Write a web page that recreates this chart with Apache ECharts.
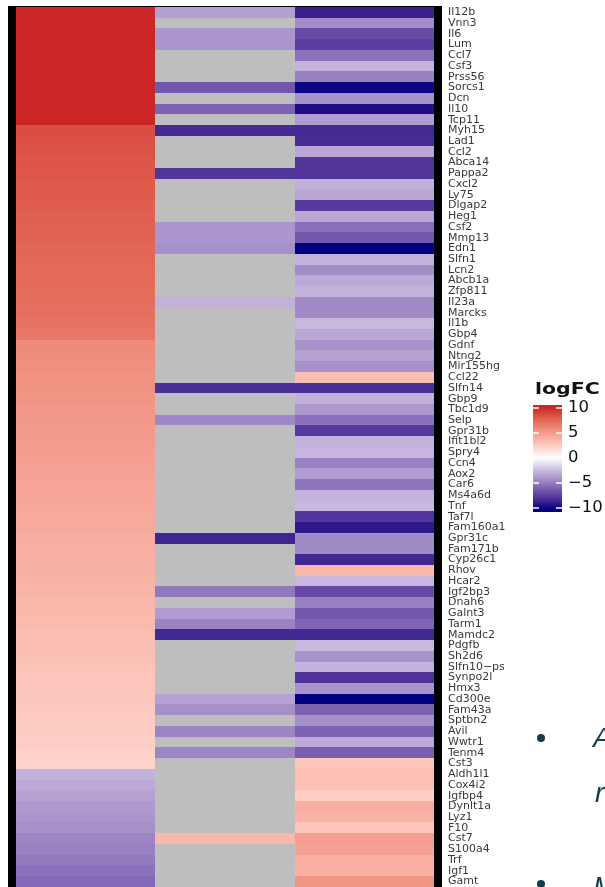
<!DOCTYPE html>
<html>
<head>
<meta charset="utf-8">
<script src="https://cdn.jsdelivr.net/npm/echarts@6/dist/echarts.min.js"></script>
<style>
html,body{margin:0;padding:0;background:#fff;}
#chart{width:605px;height:887px;}
</style>
</head>
<body>
<div id="chart"></div>
<script>
const genes = ['Il12b','Vnn3','Il6','Lum','Ccl7','Csf3','Prss56','Sorcs1','Dcn','Il10','Tcp11','Myh15','Lad1','Ccl2','Abca14','Pappa2','Cxcl2','Ly75','Dlgap2','Heg1','Csf2','Mmp13','Edn1','Slfn1','Lcn2','Abcb1a','Zfp811','Il23a','Marcks','Il1b','Gbp4','Gdnf','Ntng2','Mir155hg','Ccl22','Slfn14','Gbp9','Tbc1d9','Selp','Gpr31b','Ifit1bl2','Spry4','Ccn4','Aox2','Car6','Ms4a6d','Tnf','Taf7l','Fam160a1','Gpr31c','Fam171b','Cyp26c1','Rhov','Hcar2','Igf2bp3','Dnah6','Galnt3','Tarm1','Mamdc2','Pdgfb','Sh2d6','Slfn10\u2212ps','Synpo2l','Hmx3','Cd300e','Fam43a','Sptbn2','Avil','Wwtr1','Tenm4','Cst3','Aldh1l1','Cox4i2','Igfbp4','Dynlt1a','Lyz1','F10','Cst7','S100a4','Trf','Igf1','Gamt'];

const conditions = ['cond1','cond2','cond3'];

const logFC1 = [10,10,10,10,10,10,10,10,10,10,10,
  8.6,8.5,8.4,8.3,8.2,8.1,8.0,7.9,7.8,7.75,7.7,7.6,7.5,7.4,7.35,7.3,7.2,7.1,6.95,6.7,
  5.8,5.7,5.6,5.5,5.45,5.35,5.25,5.15,5.05,4.95,4.85,4.75,4.65,4.55,4.45,4.4,4.3,4.2,4.1,4.05,3.95,3.9,3.8,3.7,3.6,3.5,3.45,3.35,3.25,3.15,3.05,2.95,2.9,2.8,2.7,2.6,2.55,2.45,2.35,2.2,
  -2.8,-3.2,-3.5,-3.8,-4.0,-4.2,-4.6,-4.8,-5.1,-5.4,-5.8,-6.3];

const logFC2 = [-3.6,null,-4.0,-4.0,null,null,null,-6.5,null,-6.0,null,
  -8.4,null,null,null,-7.9,null,null,null,null,-4.0,-4.0,-4.2,null,null,null,null,-2.9,null,null,null,
  null,null,null,null,-8.2,null,null,-4.5,null,null,null,null,null,null,null,null,null,null,-8.6,null,null,null,null,-5.1,null,-3.7,-4.7,-8.5,null,null,null,null,null,-3.5,-4.2,null,-4.6,null,-4.6,
  null,null,null,null,null,null,null,3.6,null,null,null,null];

const logFC3 = [-8.8,-4.3,-7.0,-7.6,-5.4,-2.8,-4.8,-9.8,-4.2,-9.5,-3.7,
  -8.4,-8.3,-3.3,-7.9,-7.9,-2.9,-3.3,-7.7,-3.3,-5.5,-6.5,-10,-2.8,-4.3,-3.2,-2.8,-4.4,-4.4,-2.6,-3.3,
  -4.1,-3.5,-4.2,3.2,-8.2,-2.9,-3.9,-5.4,-7.8,-2.8,-2.7,-4.8,-3.7,-5.3,-2.8,-2.6,-7.9,-9.1,-4.4,-4.4,-8.5,3.6,-2.6,-7.1,-4.8,-6.5,-5.9,-8.5,-2.6,-4.1,-2.8,-8.0,-4.1,-10,-6.0,-4.2,-6.0,-3.2,-6.3,
  2.9,3.2,3.2,2.4,4.0,3.8,2.9,4.8,4.7,4.0,3.9,5.3];

const legendTicks = [10,5,0,-5,-10];

// ---- Lab colour interpolation (like ggplot2 gradient2) ----
function hex2rgb(h){h=h.replace('#','');return [0,2,4].map(i=>parseInt(h.substr(i,2),16));}
function s2l(c){c/=255;return c<=0.04045?c/12.92:Math.pow((c+0.055)/1.055,2.4);}
function l2s(c){c=c<=0.0031308?12.92*c:1.055*Math.pow(c,1/2.4)-0.055;return Math.max(0,Math.min(255,Math.round(c*255)));}
function rgb2lab(rgb){
  const [r,g,b]=rgb.map(s2l);
  let X=(0.4124*r+0.3576*g+0.1805*b)/0.95047, Y=(0.2126*r+0.7152*g+0.0722*b), Z=(0.0193*r+0.1192*g+0.9505*b)/1.08883;
  const f=t=>t>0.008856?Math.cbrt(t):(7.787*t+16/116);
  const fx=f(X),fy=f(Y),fz=f(Z);
  return [116*fy-16,500*(fx-fy),200*(fy-fz)];
}
function lab2rgb(lab){
  const [L,a,b]=lab;
  const fy=(L+16)/116, fx=fy+a/500, fz=fy-b/200;
  const fi=t=>t*t*t>0.008856?t*t*t:(t-16/116)/7.787;
  const X=fi(fx)*0.95047, Y=fi(fy), Z=fi(fz)*1.08883;
  const r=3.2406*X-1.5372*Y-0.4986*Z, g=-0.9689*X+1.8758*Y+0.0415*Z, bb=0.0557*X-0.2040*Y+1.0570*Z;
  return 'rgb('+l2s(r)+','+l2s(g)+','+l2s(bb)+')';
}
const LOW=rgb2lab(hex2rgb('#000080')), MID=rgb2lab(hex2rgb('#FFFFFF')), HIGH=rgb2lab(hex2rgb('#CD2626'));
function scaleColor(v){
  v=Math.max(-10,Math.min(10,v));
  const t=Math.abs(v)/10, end=v<0?LOW:HIGH;
  return lab2rgb([0,1,2].map(i=>MID[i]+(end[i]-MID[i])*t));
}
const stops=[];
for(let i=0;i<=40;i++) stops.push(scaleColor(-10+i*0.5));

// ---- data for series ----
const cols=[logFC1,logFC2,logFC3];
const valueCells=[], naCells=[];
cols.forEach((arr,ci)=>arr.forEach((v,ri)=>{
  if(v===null) naCells.push([ci,ri,0]); else valueCells.push([ci,ri,v]);
}));

// cell renderer: rect snapped to whole pixels so neighbouring rows meet without seams
function cellRenderer(fixedColor){
  return function(params,api){
    const c=api.coord([api.value(0),api.value(1)]);
    const s=api.size([1,1]);
    const x0=Math.round(c[0]-s[0]/2), x1=Math.round(c[0]+s[0]/2);
    const y0=Math.round(c[1]-s[1]/2), y1=Math.round(c[1]+s[1]/2);
    return {type:'rect',shape:{x:x0,y:y0,width:x1-x0,height:y1-y0},
      style:{fill:fixedColor||api.visual('color')}};
  };
}

// ---- legend graphic ----
const barTop=405, barH=107, barX=533, barW=29, y0=458, pxPerUnit=5;
const gradStops=[];
for(let i=0;i<=40;i++){
  const y=barTop+barH*i/40, v=(y0-y)/pxPerUnit;
  gradStops.push({offset:i/40,color:scaleColor(v)});
}
const graphics=[
  {type:'rect',shape:{x:8,y:6,width:434,height:895},style:{fill:'#000'},z:0},
  {type:'text',x:535,y:390,scaleX:1.28,style:{text:'logFC',x:0,y:0,fontFamily:'DejaVu Sans',fontWeight:'bold',fontSize:16,fill:'#111',textVerticalAlign:'middle'}},
  {type:'rect',shape:{x:barX,y:barTop,width:barW,height:barH},style:{fill:{type:'linear',x:0,y:0,x2:0,y2:1,colorStops:gradStops}}}
];
legendTicks.forEach(t=>{
  const y=y0-t*pxPerUnit;
  graphics.push({type:'line',shape:{x1:barX,y1:y,x2:barX+6,y2:y},style:{stroke:'#fff',lineWidth:1.5}});
  graphics.push({type:'line',shape:{x1:barX+barW-6,y1:y,x2:barX+barW,y2:y},style:{stroke:'#fff',lineWidth:1.5}});
  graphics.push({type:'text',x:568,y:y,scaleX:1.1,style:{text:(t<0?'\u2212':'')+Math.abs(t),x:0,y:0,fontFamily:'DejaVu Sans',fontSize:15,fill:'#111',textVerticalAlign:'middle'}});
});
// background slide fragments
const slide='#123e4e';
graphics.push({type:'circle',shape:{cx:541,cy:738,r:4},style:{fill:slide}});
graphics.push({type:'circle',shape:{cx:541,cy:884,r:4},style:{fill:slide}});
graphics.push({type:'text',style:{text:'A',x:593,y:739,fontFamily:'Liberation Sans',fontStyle:'italic',fontSize:28,fill:slide,textVerticalAlign:'middle'}});
graphics.push({type:'text',style:{text:'r',x:595,y:794,fontFamily:'Liberation Sans',fontStyle:'italic',fontSize:28,fill:slide,textVerticalAlign:'middle'}});
graphics.push({type:'text',style:{text:'M',x:593,y:888,fontFamily:'Liberation Sans',fontStyle:'italic',fontSize:28,fill:slide,textVerticalAlign:'middle'}});

const chart=echarts.init(document.getElementById('chart'),null,{renderer:'canvas'});
chart.setOption({
  animation:false,
  backgroundColor:'#fff',
  grid:{left:16,top:7,width:418,height:881},
  xAxis:{type:'category',data:conditions,show:false},
  yAxis:{type:'category',data:genes,inverse:true,position:'right',
    axisLine:{show:false},axisTick:{show:false},splitLine:{show:false},
    axisLabel:{interval:0,margin:14,fontFamily:'DejaVu Sans',fontSize:11,color:'#383838'}},
  visualMap:{type:'continuous',min:-10,max:10,show:false,seriesIndex:0,dimension:2,inRange:{color:stops}},
  graphic:{elements:graphics},
  series:[
    {type:'custom',data:valueCells,z:3,encode:{x:0,y:1},renderItem:cellRenderer(null),silent:true},
    {type:'custom',data:naCells,z:3,encode:{x:0,y:1},renderItem:cellRenderer('#bebebe'),silent:true}
  ]
});
</script>
</body>
</html>
